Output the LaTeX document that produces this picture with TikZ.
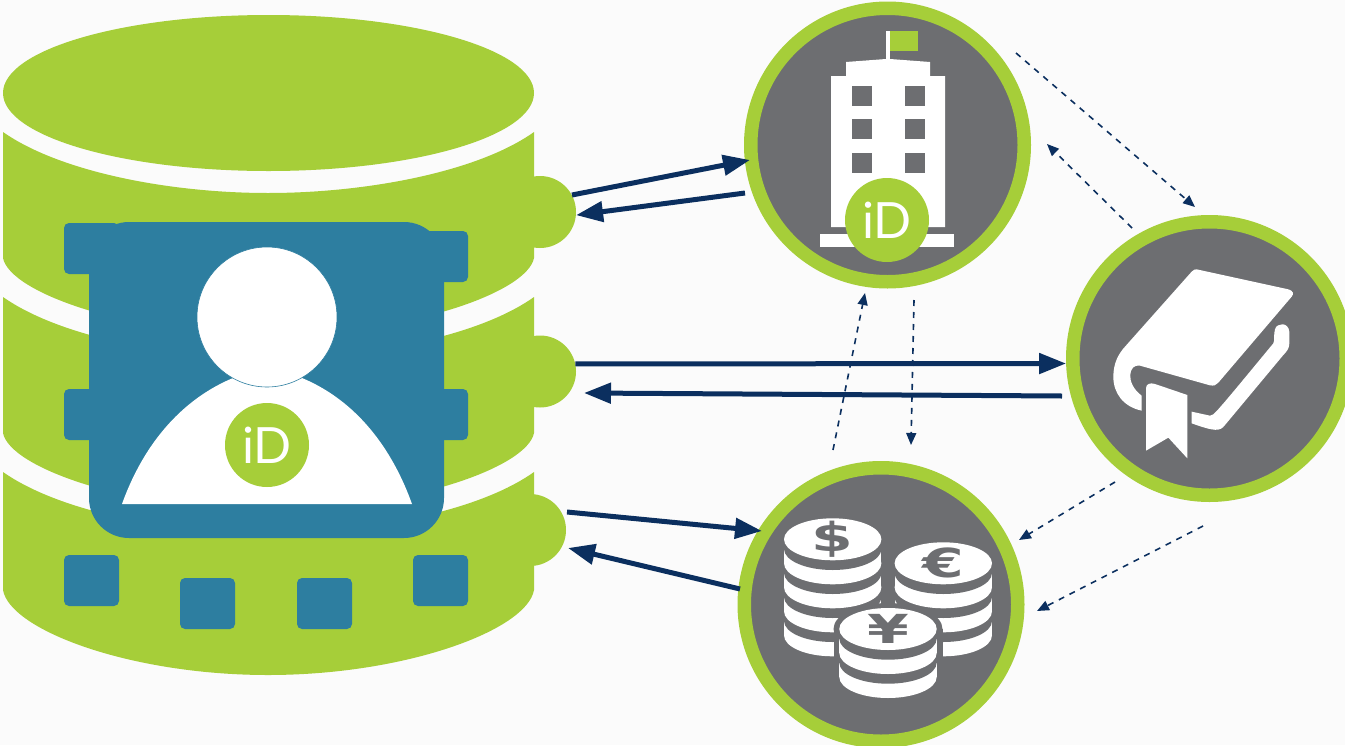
\documentclass[tikz,border=0pt]{standalone}
\usepackage{fontspec}
\usetikzlibrary{arrows.meta}
\newfontfamily\idfont{Lato}
\newfontfamily\coinfont{DejaVu Sans}
\definecolor{pagebg}{HTML}{FBFBFB}
\definecolor{dbgreen}{HTML}{A6CE39}
\definecolor{cardblue}{HTML}{2D7EA0}
\definecolor{discgray}{HTML}{6D6E71}
\definecolor{flownavy}{HTML}{0B2F5F}
\newcommand{\coinstack}[4]{
	\foreach \lev in {#4} {
		\pgfmathsetmacro{\yc}{#2+24*\lev}
		\fill[white] (#1-48.7,\yc-14.3) rectangle (#1+48.7,\yc);
		\fill[white] (#1,\yc) ellipse [x radius=48.7, y radius=21];
		\fill[discgray] (#1,\yc-14.3) ellipse [x radius=48.7, y radius=21];
	}
	\fill[white] (#1,#2) ellipse [x radius=48.7, y radius=21];
	\node[coinsign] (#3) at (#1,#2) {};
}
\begin{document}
\begin{tikzpicture}[x=1pt, y=-1pt,
	dbtab/.style={circle, fill=dbgreen, minimum size=72pt, inner sep=0pt},
	dbsquare/.style={rectangle, fill=cardblue, rounded corners=5pt, minimum width=55pt, minimum height=51pt, inner sep=0pt},
	disc/.style={circle, fill=discgray, draw=dbgreen, line width=13.5pt, minimum size=273.5pt, inner sep=0pt},
	idbadge/.style={circle, fill=dbgreen, text=white, minimum size=84pt, inner sep=0pt, font=\idfont\fontsize{50}{50}\selectfont},
	coinsign/.style={inner sep=0pt, text=discgray, xscale=1.5, transform shape, font=\coinfont\bfseries\fontsize{40}{40}\selectfont},
	dataflow/.style={draw=flownavy, line width=5pt, -{Triangle[length=27pt, width=20pt]}},
	sideflow/.style={draw=flownavy, line width=1.6pt, dash pattern=on 6pt off 6pt, -{Triangle[length=12pt, width=10pt]}}]
	\useasboundingbox[fill=pagebg] (0,0) rectangle (1345,745);

	\fill[dbgreen] (3,132) .. controls (60,172) and (170,193) .. (268,193) .. controls (366,193) and (478,172) .. (534,132) -- (534,258) .. controls (527,293) and (406,335) .. (268,335) .. controls (130,335) and (10,293) .. (3,258) -- cycle;
	\fill[dbgreen] (3,297) .. controls (60,337) and (170,358) .. (268,358) .. controls (366,358) and (478,337) .. (534,297) -- (534,433) .. controls (527,468) and (406,510) .. (268,510) .. controls (130,510) and (10,468) .. (3,433) -- cycle;
	\fill[dbgreen] (3,472) .. controls (60,512) and (170,533) .. (268,533) .. controls (366,533) and (478,512) .. (534,472) -- (534,590) .. controls (527,630) and (406,675) .. (268,675) .. controls (130,675) and (10,630) .. (3,590) -- cycle;
	\fill[dbgreen] (268.5,93) ellipse [x radius=265.5, y radius=78];

	\node[dbtab] (tabone) at (540,212) {};
	\node[dbtab] (tabtwo) at (540,371.5) {};
	\node[dbtab] (tabthree) at (530,530) {};

	\foreach \n/\x/\y in {a/91.5/248.5, b/440.5/256.5, c/91.5/414.5, d/440.5/414.5, e/91.5/580.5, f/207.5/603.5, g/324.5/603.5, h/440.5/580.5}
		\node[dbsquare] (sq\n) at (\x,\y) {};

	\node[rectangle, fill=cardblue, rounded corners=40pt, minimum width=355pt, minimum height=316pt, inner sep=0pt] (card) at (266.5,380) {};
	\fill[white] (122,504) .. controls (145,440) and (185,398) .. (233,378) -- (302,378) .. controls (350,398) and (389,440) .. (412,504) -- cycle;
	\node[circle, fill=white, draw=cardblue, line width=0.6pt, minimum size=140pt, inner sep=0pt] (head) at (267,317) {};
	\node[idbadge] (personid) at (267,445) {iD};

	\node[disc] (orgdisc) at (887.5,145) {};
	\node[disc] (bookdisc) at (1209.5,358.5) {};
	\node[disc] (coindisc) at (881,604.5) {};

	\fill[white] (885.7,31) rectangle (889.7,62);
	\fill[dbgreen] (889.7,31) rectangle (918,51);
	\fill[white] (846,62) -- (886,59) -- (890,59) -- (930,62) -- (930,76) -- (945,76) -- (945,227) -- (831,227) -- (831,76) -- (846,76) -- cycle;
	\fill[white] (820,234) rectangle (953.7,247);
	\foreach \x in {851.7,905.3}
		\foreach \y in {85.7,119,152.7}
			\fill[discgray] (\x,\y) rectangle (\x+20,\y+20);
	\node[idbadge] (orgid) at (887,220) {iD};

	\begin{scope}[shift={(1060,210)}, scale=1/3]
		\fill[white] (410,178) -- (685,238) .. controls (700,242) and (702,252) .. (695,260) -- (475,518) .. controls (468,526) and (462,528) .. (450,526) -- (240,467) .. controls (205,460) and (195,520) .. (245,557) -- (245,602) .. controls (190,590) and (160,550) .. (160,500) .. controls (160,460) and (175,432) .. (195,410) -- (395,185) .. controls (400,180) and (405,177) .. (410,178) -- cycle;
		\fill[white] (395,605) -- (450,617) .. controls (460,618) and (465,612) .. (640,400) .. controls (645,390) and (640,375) .. (645,358) .. controls (650,338) and (685,335) .. (688,365) -- (688,400) .. controls (688,415) and (680,425) .. (670,435) -- (495,645) .. controls (480,665) and (465,665) .. (395,640) -- cycle;
		\fill[white] (258,535) .. controls (258,522) and (270,517) .. (285,522) -- (382,555) -- (382,745) -- (325,683) -- (258,722) -- cycle;
	\end{scope}

	\coinstack{832.7}{539.3}{signdollar}{4,3,2,1}
	\coinstack{943.3}{563.3}{signeuro}{3,2,1}
	\fill[discgray] (834,629) rectangle (942.5,700);
	\fill[discgray] (888,629) ellipse [x radius=54.5, y radius=26];
	\coinstack{888}{629}{signyen}{2,1}
	\node[coinsign] at (signdollar) {\$};
	\node[coinsign] at (signeuro) {€};
	\node[coinsign] at (signyen) {¥};

	\coordinate (orgin) at (750,160);
	\coordinate (orgout) at (745,193);
	\coordinate (bookout) at (1062,396);
	\coordinate (tabtwoin) at (584,393);
	\coordinate (tabthreeout) at (567,512);
	\coordinate (coinin) at (762,531);
	\coordinate (coinout) at (740,589);
	\coordinate (tabthreein) at (568,548);

	\draw[dataflow] (tabone.28) -- (orgin);
	\draw[dataflow] (orgout) -- (tabone.-5);
	\draw[dataflow] (tabtwo.12) -- (bookdisc.182);
	\draw[dataflow] (bookout) -- (tabtwoin);
	\draw[dataflow] (tabthreeout) -- (coinin);
	\draw[dataflow] (coinout) -- (tabthreein);

	\coordinate (orgtobook) at (1016,53);
	\coordinate (bookfromorg) at (1195,207);
	\coordinate (booktoorg) at (1132,228);
	\coordinate (orgfrombook) at (1047,144);
	\coordinate (orgtocoin) at (914,300);
	\coordinate (coinfromorg) at (911,445);
	\coordinate (cointoorg) at (833,450);
	\coordinate (orgfromcoin) at (865,293);
	\coordinate (booktocoin) at (1115,482);
	\coordinate (coinfrombook) at (1019,540);
	\coordinate (booktocoinlow) at (1203,526);
	\coordinate (coinfrombooklow) at (1037,611);

	\draw[sideflow] (orgtobook) -- (bookfromorg);
	\draw[sideflow] (booktoorg) -- (orgfrombook);
	\draw[sideflow] (orgtocoin) -- (coinfromorg);
	\draw[sideflow] (cointoorg) -- (orgfromcoin);
	\draw[sideflow] (booktocoin) -- (coinfrombook);
	\draw[sideflow] (booktocoinlow) -- (coinfrombooklow);
\end{tikzpicture}
\end{document}
